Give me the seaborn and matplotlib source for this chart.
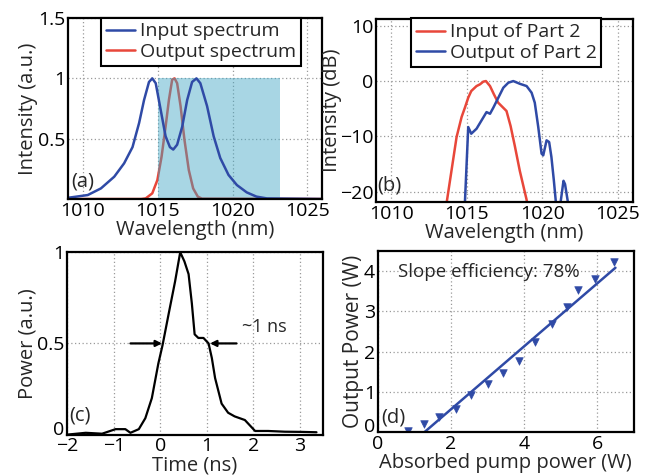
"""
Four-panel spectrum / pulse / slope-efficiency figure recreated with seaborn.
"""
import numpy as np
import pandas as pd
import matplotlib
matplotlib.use("Agg")
import matplotlib.pyplot as plt
import matplotlib.transforms as mtransforms
import seaborn as sns

# ---- (a) spectra, normalised ----
wl_in = [1009.0, 1010.33, 1011.21, 1012.1, 1012.76, 1013.32, 1013.76, 1014.09, 1014.42, 1014.64,
         1014.87, 1015.2, 1015.53, 1015.82, 1016.04, 1016.3, 1016.64, 1016.97, 1017.3, 1017.59,
         1017.85, 1018.3, 1018.74, 1019.18, 1019.73, 1020.29, 1020.95, 1021.6, 1022.3, 1026.0]
int_in = [0.01, 0.033, 0.088, 0.185, 0.296, 0.43, 0.63, 0.82, 0.97, 1.0,
          0.96, 0.74, 0.52, 0.43, 0.41, 0.45, 0.6, 0.82, 0.97, 1.0,
          0.96, 0.77, 0.52, 0.34, 0.2, 0.116, 0.055, 0.02, 0.005, 0.0]
wl_out = [1009.0, 1013.9, 1014.2, 1014.64, 1014.98, 1015.26, 1015.53, 1015.75, 1015.97, 1016.13,
          1016.3, 1016.53, 1016.79, 1017.08, 1017.37, 1017.68, 1017.96, 1026.0]
int_out = [0.0, 0.0, 0.005, 0.047, 0.157, 0.35, 0.6, 0.82, 0.99, 1.0,
           0.96, 0.77, 0.49, 0.24, 0.088, 0.02, 0.003, 0.0]
shade_band = [1015.0, 1023.2]

# ---- (b) part 2 spectra in dB ----
wl_p2_in = [1013.67, 1014.33, 1014.66, 1014.88, 1015.1, 1015.3, 1015.65, 1015.87, 1016.1, 1016.27,
            1016.54, 1016.8, 1017.08, 1017.3, 1017.63, 1017.9, 1018.18, 1018.51, 1018.95, 1019.0]
db_p2_in = [-22, -10.1, -6.5, -4.8, -3.0, -1.8, -0.9, -0.6, -0.1, 0.0,
            -0.9, -2.4, -3.9, -4.5, -5.4, -8.1, -11.7, -16.2, -21.3, -22]
wl_p2_out = [1014.88, 1015.1, 1015.3, 1015.65, 1015.98, 1016.31, 1016.54, 1016.76, 1017.09, 1017.42,
             1017.75, 1018.08, 1018.52, 1018.96, 1019.29, 1019.5, 1019.73, 1019.95, 1020.06, 1020.28,
             1020.45, 1020.6, 1020.76, 1020.9, 1021.2, 1021.4, 1021.5, 1021.7]
db_p2_out = [-22, -8.3, -9.5, -8.6, -7.1, -5.6, -5.9, -4.8, -3.0, -1.2,
             -0.3, 0.0, -0.5, -0.9, -2.1, -3.9, -8.3, -13.1, -13.4, -10.7,
             -11.0, -13.7, -17.9, -22, -22, -18.0, -18.6, -22]

# ---- (c) pulse shape ----
t_ns = [-2.0, -1.6, -1.25, -0.96, -0.75, -0.64, -0.46, -0.32, -0.18, -0.04,
        0.05, 0.18, 0.32, 0.43, 0.52, 0.61, 0.68, 0.74, 0.82, 0.93,
        1.04, 1.11, 1.18, 1.32, 1.46, 1.6, 1.82, 2.04, 2.32, 2.68, 3.04, 3.36]
power = [0.0, 0.01, 0.005, 0.03, 0.03, 0.01, 0.03, 0.09, 0.2, 0.39,
         0.49, 0.66, 0.84, 1.0, 0.95, 0.88, 0.72, 0.55, 0.53, 0.53,
         0.5, 0.42, 0.31, 0.17, 0.12, 0.10, 0.08, 0.02, 0.02, 0.016, 0.015, 0.013]
fwhm_left = [-0.64, 0.04]   # arrow tail / head, pointing right
fwhm_right = [1.64, 1.07]   # arrow tail / head, pointing left

# ---- (d) slope efficiency ----
pump_w = [0.82, 1.27, 1.68, 2.14, 2.55, 3.02, 3.43, 3.85, 4.3, 4.77, 5.18, 5.48, 5.95, 6.45]
out_w = [0.02, 0.2, 0.38, 0.57, 0.92, 1.2, 1.46, 1.77, 2.25, 2.68, 3.11, 3.52, 3.8, 4.23]
fit_x = [1.27, 6.5]
fit_y = [0.0, 4.08]

BLUE = "#2f4aa6"
RED = "#e8473a"
SHADE = "#3fa6c4"

FS = 14

sns.set_style("white")
plt.rcParams["font.family"] = ["Open Sans", "DejaVu Sans"]
plt.rcParams["font.size"] = FS
plt.rcParams["axes.linewidth"] = 1.6
plt.rcParams["xtick.direction"] = "in"
plt.rcParams["ytick.direction"] = "in"

fig = plt.figure(figsize=(6.46, 4.75), dpi=100)
ax_a = fig.add_axes([0.105, 0.581, 0.394, 0.381])
ax_b = fig.add_axes([0.582, 0.575, 0.398, 0.385])
ax_c = fig.add_axes([0.104, 0.085, 0.396, 0.384])
ax_d = fig.add_axes([0.585, 0.090, 0.396, 0.382])


def style_axes(ax):
    ax.grid(True, ls=(0, (1, 2)), color="#9a9a9a", lw=0.9)
    for s in ax.spines.values():
        s.set_color("black")
        s.set_linewidth(1.6)
        s.set_zorder(6)
    ax.tick_params(length=3, width=1, colors="black", labelsize=FS, pad=2)


def boxed_legend(ax, x0, handles=None, labels=None):
    if handles is None:
        handles, labels = ax.get_legend_handles_labels()
    leg = ax.legend(handles, labels, loc="upper left", bbox_to_anchor=(x0, 1.003),
                    fancybox=False, edgecolor="black", framealpha=1, handlelength=1.5,
                    handletextpad=0.25, borderpad=0.25, labelspacing=0.15, borderaxespad=0,
                    fontsize=FS)
    leg.get_frame().set_linewidth(1.5)
    leg.set_zorder(7)


def lift_zero(ax, px):
    # the "0" at the corner sits a little higher, clear of the x tick below
    lbl = ax.get_yticklabels()[0]
    lbl.set_transform(lbl.get_transform() +
                      mtransforms.ScaledTranslation(0, px / 100, fig.dpi_scale_trans))


# (a)
sns.lineplot(x=wl_out, y=int_out, ax=ax_a, color=RED, lw=1.8, label="Output spectrum",
             sort=False, zorder=2)
ax_a.fill_between(shade_band, 0, 1, color=SHADE, alpha=0.45, lw=0, zorder=3)
sns.lineplot(x=wl_in, y=int_in, ax=ax_a, color=BLUE, lw=1.8, label="Input spectrum",
             sort=False, zorder=4)
ax_a.set_xlim(1009, 1026)
ax_a.set_ylim(0, 1.5)
ax_a.set_xticks([1010, 1015, 1020, 1025])
ax_a.set_yticks([0.5, 1, 1.5])
ax_a.set_yticklabels(["0.5", "1", "1.5"])
ax_a.set_xlabel("Wavelength (nm)", fontsize=14.5, labelpad=0)
ax_a.set_ylabel("Intensity (a.u.)", fontsize=14.5, labelpad=0)
ax_a.text(1009.2, 0.1, "(a)", fontsize=14.5, zorder=5)
style_axes(ax_a)
h, l = ax_a.get_legend_handles_labels()
boxed_legend(ax_a, 0.13, h[::-1], l[::-1])

# (b)
sns.lineplot(x=wl_p2_in, y=db_p2_in, ax=ax_b, color=RED, lw=1.8, label="Input of Part 2", sort=False)
sns.lineplot(x=wl_p2_out, y=db_p2_out, ax=ax_b, color=BLUE, lw=1.8, label="Output of Part 2", sort=False)
ax_b.set_xlim(1009, 1026)
ax_b.set_ylim(-21.8, 11.2)
ax_b.set_xticks([1010, 1015, 1020, 1025])
ax_b.set_yticks([-20, -10, 0, 10])
ax_b.set_yticklabels(["\u221220", "\u221210", "0", "10"])
ax_b.set_xlabel("Wavelength (nm)", fontsize=14.5, labelpad=0)
ax_b.set_ylabel("Intensity (dB)", fontsize=14.5, labelpad=-1.5)
ax_b.text(1009.1, -19.8, "(b)", fontsize=14.5)
style_axes(ax_b)
boxed_legend(ax_b, 0.135)

# (c)
sns.lineplot(x=t_ns, y=power, ax=ax_c, color="black", lw=1.6, sort=False)
ax_c.set_xlim(-2, 3.5)
ax_c.set_ylim(0, 1)
ax_c.set_xticks([-2, -1, 0, 1, 2, 3])
ax_c.set_xticklabels(["\u22122", "\u22121", "0", "1", "2", "3"])
ax_c.set_yticks([0, 0.5, 1])
ax_c.set_yticklabels(["0", "0.5", "1"])
ax_c.set_xlabel("Time (ns)", fontsize=14.5, labelpad=0)
ax_c.set_ylabel("Power (a.u.)", fontsize=14.5, labelpad=0)
for tail, head in (fwhm_left, fwhm_right):
    ax_c.annotate("", xy=(head, 0.5), xytext=(tail, 0.5),
                  arrowprops=dict(arrowstyle="-|>", color="black", lw=1.6,
                                  mutation_scale=9, shrinkA=0, shrinkB=0))
ax_c.text(1.75, 0.565, "~1 ns", fontsize=13)
ax_c.text(-1.95, 0.08, "(c)", fontsize=14.5)
style_axes(ax_c)
lift_zero(ax_c, 7)

# (d)
sns.scatterplot(x=pump_w, y=out_w, ax=ax_d, color=BLUE, marker="v", s=30,
                edgecolor=BLUE, zorder=4)
sns.lineplot(x=fit_x, y=fit_y, ax=ax_d, color=BLUE, lw=1.8)
ax_d.set_xlim(0, 7)
ax_d.set_ylim(0, 4.5)
ax_d.set_xticks([0, 2, 4, 6])
ax_d.set_yticks([0, 1, 2, 3, 4])
ax_d.set_xlabel("Absorbed pump power (W)", fontsize=14.5, labelpad=0)
ax_d.set_ylabel("Output Power (W)", fontsize=15, labelpad=0)
ax_d.text(0.55, 3.98, "Slope efficiency: 78%", fontsize=13.5, va="center")
ax_d.text(0.1, 0.25, "(d)", fontsize=14.5)
style_axes(ax_d)
lift_zero(ax_d, 7)

fig.savefig("out.png", dpi=100)
